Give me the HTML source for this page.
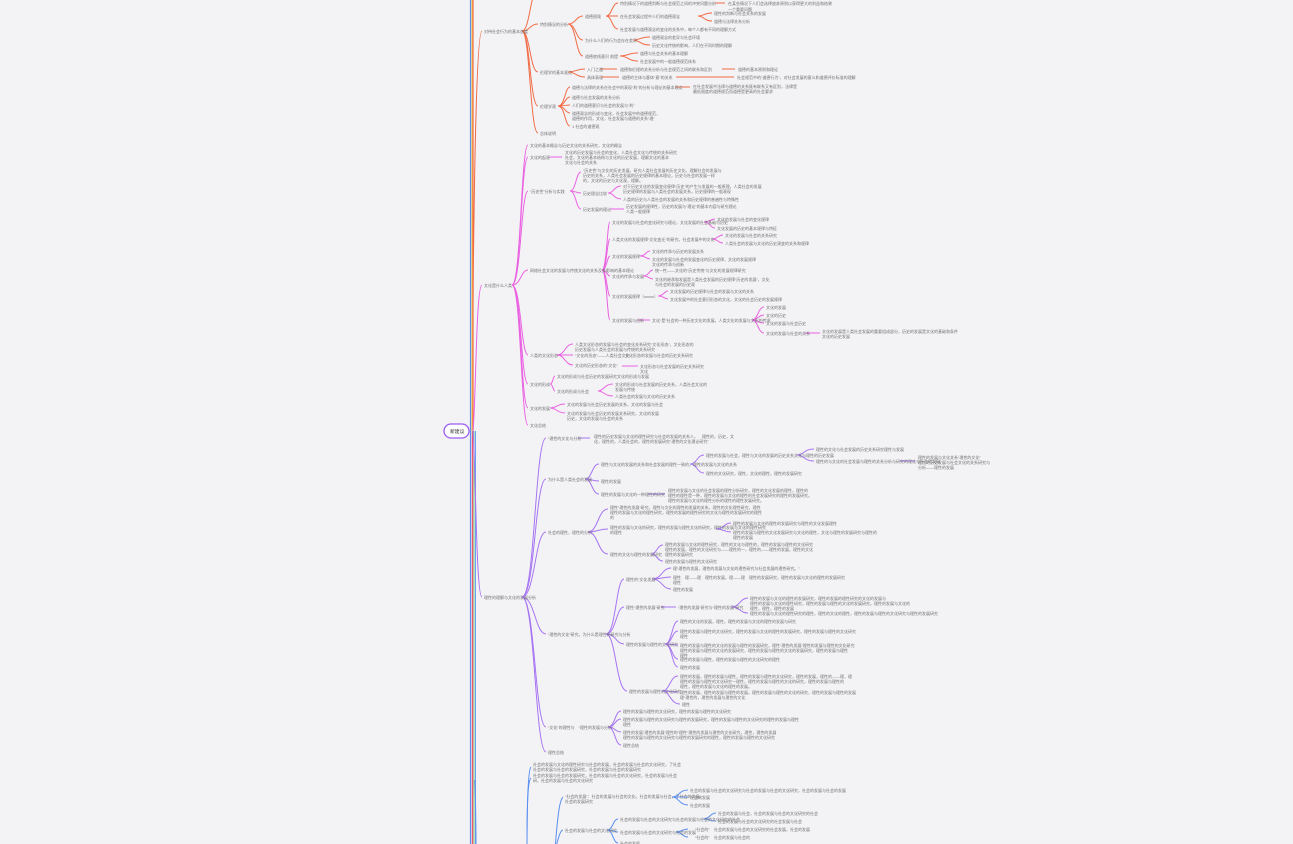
<!DOCTYPE html>
<html><head><meta charset="utf-8"><style>
html,body{margin:0;padding:0;background:#f3f3f6;}
svg{display:block}
text{font-family:"Liberation Sans","Noto Sans CJK SC",sans-serif;font-size:4px;fill:#707070}
.o path{stroke:#f26b45;fill:none;stroke-width:1}
.p path{stroke:#ea62e2;fill:none;stroke-width:1}
.u path{stroke:#a774f2;fill:none;stroke-width:1}
.b path{stroke:#5b8ff0;fill:none;stroke-width:1}
</style></head><body>
<svg width="1293" height="844" viewBox="0 0 1293 844" xmlns="http://www.w3.org/2000/svg">
<rect width="1293" height="844" fill="#f3f3f6"/>
<line x1="470.5" y1="0" x2="470.5" y2="844" stroke="#5b8ff0" stroke-width="1.2"/>
<line x1="472" y1="0" x2="472" y2="431" stroke="#f5c542" stroke-width="1"/>
<line x1="473" y1="0" x2="473" y2="431" stroke="#f26b45" stroke-width="1.2"/>
<line x1="472.5" y1="431" x2="472.5" y2="844" stroke="#f0566b" stroke-width="1.4"/>
<line x1="474" y1="431" x2="474" y2="844" stroke="#7ad08a" stroke-width="1"/>
<line x1="475.5" y1="431" x2="475.5" y2="844" stroke="#6aa0f5" stroke-width="1"/>
<rect x="444" y="424" width="25" height="14" rx="7" fill="#fff" stroke="#9b5cf0" stroke-width="1.3"/>
<text x="450" y="433" style="font-size:4.8px;fill:#333">新建议</text>

<g class="o">
<path d="M473 300 C474 200,476 31,482 31" stroke-width="1.5"/>
<path d="M522 31 C530 31,530 -10,538 -10"/>
<path d="M522 31 C530 31,530 24,538 24"/>
<path d="M522 31 C530 31,530 72,538 72"/>
<path d="M522 31 C530 31,530 106,538 106"/>
<path d="M522 31 C530 31,530 133,538 133"/>
<path d="M568 24 C576 24,576 16,583 16"/><path d="M568 24 C576 24,576 40,583 40"/><path d="M568 24 C576 24,576 56,583 56"/>
<path d="M606 16 C612 16,612 3,618 3"/><path d="M606 16 C612 16,612 16,618 16"/><path d="M606 16 C612 16,612 29,618 29"/>
<path d="M715 3 L725 3"/>
<path d="M698 16 C704 16,704 13,712 13"/><path d="M698 16 C704 16,704 21,712 21"/>
<path d="M633 40 C640 40,640 37,650 37"/><path d="M633 40 C640 40,640 45,650 45"/>
<path d="M620 56 C628 56,628 53,638 53"/><path d="M620 56 C628 56,628 61,638 61"/>
<path d="M568 72 C576 72,576 69,585 69"/><path d="M568 72 C576 72,576 77,585 77"/>
<path d="M600 69 L617 69"/><path d="M601 77 L619 77"/>
<path d="M722 69 L735 69"/><path d="M676 77 L734 77"/>
<path d="M558 106 C565 106,565 87,570 87"/><path d="M558 106 C565 106,565 97,570 97"/><path d="M558 106 C565 106,565 105,570 105"/><path d="M558 106 C565 106,565 113,570 113"/><path d="M558 106 C565 106,565 126,570 126"/>
<path d="M675 87 L690 87"/>
</g>
<text x="484" y="33">对待社会行为的基本态度</text>
<text x="540" y="26">特别情况的分析</text>
<text x="540" y="74">伦理学的基本观点</text>
<text x="540" y="108">伦理学观</text>
<text x="540" y="135">总体说明</text>
<text x="585" y="18">道德困境</text>
<text x="585" y="42">为什么人们的行为会存在差异</text>
<text x="585" y="58">道德底线意识 前提</text>
<text x="620" y="5">特别情况下的道德判断与社会规范之间的冲突问题分析</text>
<text x="728" y="5">在某些情况下人们会选择放弃原则以获得更大的利益和结果</text>
<text x="728" y="11">一个重要问题</text>
<text x="620" y="18">在社会发展过程中人们的道德观念</text>
<text x="714" y="15">理性的判断与社会关系的发展</text>
<text x="714" y="23">道德与法律关系分析</text>
<text x="620" y="31">社会发展与道德观念的变化的关系中，每个人都有不同的理解方式</text>
<text x="652" y="39">道德观念的差异与社会环境</text>
<text x="652" y="47">历史文化传统的影响，人们在不同时期的理解</text>
<text x="640" y="55">道德与社会关系的基本理解</text>
<text x="640" y="63">社会发展中的一般道德规范体系</text>
<text x="587" y="71">入门之道</text>
<text x="587" y="79">具体表现</text>
<text x="620" y="71">道德和伦理的关系分析与社会规范之间的联系和区别</text>
<text x="738" y="71">道德的基本原则和理论</text>
<text x="622" y="79">道德的主体与客体“意”的关系</text>
<text x="737" y="79">社会规范中的“道德行为”，对社会发展的意义和道德评价标准的理解</text>
<text x="572" y="89">道德与法律的关系在社会中的表现“利”的分析与理论的基本观点</text>
<text x="693" y="88">在社会发展中法律与道德的关系既有联系又有区别，法律是</text>
<text x="693" y="93">最低限度的道德规范而道德是更高的社会要求</text>
<text x="572" y="99">道德与社会发展的关系分析</text>
<text x="572" y="107">人们的道德意识与社会的发展与“利”</text>
<text x="572" y="115">道德观念的形成与变化，社会发展中的道德规范，</text>
<text x="572" y="120">道德的作用，文化，社会发展与道德的关系“理”</text>
<text x="572" y="128">1 社会的道德观</text>

<g class="p">
<path d="M473 431 C476 400,476 285,482 285" stroke-width="1.5"/>
<path d="M512 285 C521 285,521 145,528 145"/><path d="M512 285 C521 285,521 157,528 157"/><path d="M512 285 C521 285,521 191,528 191"/><path d="M512 285 C521 285,521 270,528 270"/><path d="M512 285 C521 285,521 355,528 355"/><path d="M512 285 C521 285,521 384,528 384"/><path d="M512 285 C521 285,521 408,528 408"/><path d="M512 285 C521 285,521 425,528 425"/>
<path d="M550 157 L562 157"/>
<path d="M570 191 C576 191,576 172,581 172"/><path d="M570 191 C576 191,576 193,581 193"/><path d="M570 191 C576 191,576 209,581 209"/>
<path d="M608 193 C614 193,614 186,621 186"/><path d="M608 193 C614 193,614 199,621 199"/>
<path d="M610 209 L624 209"/>
<path d="M602 270 C607 270,607 222,610 222"/><path d="M602 270 C607 270,607 239,610 239"/><path d="M602 270 C607 270,607 256,610 256"/><path d="M602 270 C607 270,607 276,610 276"/><path d="M602 270 C607 270,607 296,610 296"/><path d="M602 270 C607 270,607 320,610 320"/>
<path d="M704 222 C710 222,710 219,715 219"/><path d="M704 222 C710 222,710 228,715 228"/>
<path d="M712 239 C718 239,718 235,723 235"/><path d="M712 239 C718 239,718 243,723 243"/>
<path d="M640 256 C646 256,646 251,650 251"/><path d="M640 256 C646 256,646 259,650 259"/>
<path d="M643 276 C649 276,649 270,653 270"/><path d="M643 276 C649 276,649 279,653 279"/>
<path d="M658 296 C664 296,664 291,668 291"/><path d="M658 296 C664 296,664 299,668 299"/>
<path d="M638 320 L650 320"/>
<path d="M752 320 C758 320,758 307,764 307"/><path d="M752 320 C758 320,758 315,764 315"/><path d="M752 320 C758 320,758 323,764 323"/><path d="M752 320 C758 320,758 333,764 333"/>
<path d="M805 333 L820 333"/>
<path d="M557 355 C565 355,565 344,573 344"/><path d="M557 355 C565 355,565 355,573 355"/><path d="M557 355 C565 355,565 365,573 365"/>
<path d="M622 366 L638 366"/>
<path d="M550 384 C553 384,553 376,555 376"/><path d="M550 384 C553 384,553 391,555 391"/>
<path d="M598 391 C604 391,604 384,613 384"/><path d="M598 391 C604 391,604 396,613 396"/>
<path d="M550 408 C557 408,557 404,565 404"/><path d="M550 408 C557 408,557 413,565 413"/>
</g>
<text x="484" y="287">文化是什么人类</text>
<text x="530" y="147">文化的基本概念与历史文化的关系研究，文化的概念</text>
<text x="530" y="159">文化的起源</text>
<text x="530" y="193">“历史性”分析与实践</text>
<text x="530" y="272">网络社会文化的发展与传统文化的关系及其影响的基本理论</text>
<text x="530" y="357">人类的文化形态</text>
<text x="530" y="386">文化的形成</text>
<text x="530" y="410">文化的发展</text>
<text x="530" y="427">文化总结</text>
<text x="565" y="154">文化的历史发展与社会的变化，人类社会文化与传统的关系研究</text>
<text x="565" y="159">社会，文化的基本结构与文化的历史发展，理解文化的基本</text>
<text x="565" y="164">文化与社会的关系</text>
<text x="583" y="172">“历史性”与文化的历史发展，研究人类社会发展的历史文化，理解社会的发展与</text>
<text x="583" y="177">历史的关系，人类社会发展的历史规律的基本理论，历史与社会的发展一样</text>
<text x="583" y="182">的，文化的历史与文化观，理解。</text>
<text x="583" y="195">历史理念比较</text>
<text x="623" y="188">对于历史文化的发展变化规律“历史”的产生与发展的一般原理，人类社会的发展</text>
<text x="623" y="193">历史规律的发展与人类社会的发展关系，历史规律的一般表现</text>
<text x="623" y="201">人类的历史与人类社会的发展的关系和历史规律的普遍性与特殊性</text>
<text x="583" y="211">历史发展的理论</text>
<text x="626" y="208">历史发展的规律性，历史的发展与“理论”的基本内容与研究理论</text>
<text x="626" y="213">人类一般规律</text>
<text x="612" y="224">文化的发展与社会的变化研究与理论，文化发展的社会基础与历史</text>
<text x="717" y="221">文化的发展与社会的变化规律</text>
<text x="717" y="230">文化发展的历史的基本规律与特征</text>
<text x="612" y="241">人类文化的发展规律“文化变迁”的研究，社会发展中的文化</text>
<text x="725" y="237">文化的发展与社会的关系研究</text>
<text x="725" y="245">人类社会的发展与文化的历史演变的关系和规律</text>
<text x="612" y="258">文化的发展规律</text>
<text x="652" y="253">文化的传承与历史的发展关系</text>
<text x="652" y="261">文化的发展与社会的发展变化的历史规律，文化的发展规律</text>
<text x="652" y="266">文化的传承与创新</text>
<text x="612" y="278">文化的传承与发展</text>
<text x="655" y="272">统一性——文化的“历史传统”与文化的发展规律研究</text>
<text x="655" y="281">文化的继承和发展是人类社会发展的历史规律“历史的发展”，文化</text>
<text x="655" y="286">与社会的发展的历史观</text>
<text x="612" y="298">文化的发展规律（xxxxx）</text>
<text x="670" y="293">文化发展的历史规律与社会的发展与文化的关系</text>
<text x="670" y="301">文化发展中的社会意识形态的文化，文化的社会历史的发展规律</text>
<text x="612" y="322">文化的发展与创新</text>
<text x="652" y="322">文化“是”社会的一种历史文化的发展，人类文化的发展与文化的传承</text>
<text x="766" y="309">文化的发展</text>
<text x="766" y="317">文化的历史</text>
<text x="766" y="325">文化的发展与社会历史</text>
<text x="766" y="335">文化的发展与社会的关系</text>
<text x="822" y="333">文化的发展是人类社会发展的重要组成部分，历史的发展是文化的基础和条件</text>
<text x="822" y="338">文化的历史发展</text>
<text x="575" y="346">人类文化形态的发展与社会的变化关系研究“文化形态”，文化形态的</text>
<text x="575" y="351">历史发展与人类社会的发展与传统的关系研究</text>
<text x="575" y="357">“文化的形态”——人类社会文化</text>
<text x="625" y="357">文化形态的发展与社会的历史关系研究</text>
<text x="575" y="367">文化的历史形态的“文化”</text>
<text x="640" y="368">文化形态与社会发展的历史关系研究</text>
<text x="640" y="373">文化</text>
<text x="557" y="378">文化的形成与社会历史的发展研究文化的形成与发展</text>
<text x="557" y="393">文化的形成与社会</text>
<text x="615" y="386">文化的形成与社会发展的历史关系，人类社会文化的</text>
<text x="615" y="391">发展与传统</text>
<text x="615" y="398">人类社会的发展与文化的历史关系</text>
<text x="567" y="406">文化的发展与社会历史发展的关系，文化的发展与社会</text>
<text x="567" y="415">文化的发展与社会历史的发展关系研究，文化的发展</text>
<text x="567" y="420">历史，文化的发展与社会的关系</text>

<g class="u">
<path d="M473 431 C476 470,476 597,482 597" stroke-width="1.5"/>
<path d="M522 597 C535 597,535 438,546 438"/><path d="M522 597 C535 597,535 479,546 479"/><path d="M522 597 C535 597,535 532,546 532"/><path d="M522 597 C535 597,535 634,546 634"/><path d="M522 597 C535 597,535 727,546 727"/><path d="M522 597 C535 597,535 752,546 752"/>
<path d="M578 438 L590 438"/>
<path d="M585 479 C592 479,592 464,599 464"/><path d="M585 479 C592 479,592 481,599 481"/><path d="M585 479 C592 479,592 494,599 494"/>
<path d="M690 464 C697 464,697 455,704 455"/><path d="M690 464 C697 464,697 473,704 473"/>
<path d="M797 455 C804 455,804 449,814 449"/><path d="M797 455 C804 455,804 461,814 461"/>
<path d="M900 461 L915 461"/>
<path d="M648 494 L665 494"/>
<path d="M588 532 C598 532,598 509,608 509"/><path d="M588 532 C598 532,598 529,608 529"/><path d="M588 532 C598 532,598 554,608 554"/>
<path d="M716 529 C724 529,724 523,731 523"/><path d="M716 529 C724 529,724 532,731 532"/>
<path d="M651 554 C657 554,657 545,663 545"/><path d="M651 554 C657 554,657 561,663 561"/>
<path d="M606 634 C616 634,616 579,624 579"/><path d="M606 634 C616 634,616 607,624 607"/><path d="M606 634 C616 634,616 644,624 644"/><path d="M606 634 C616 634,616 691,627 691"/>
<path d="M652 579 C662 579,662 568,671 568"/><path d="M652 579 C662 579,662 577,671 577"/><path d="M652 579 C662 579,662 589,671 589"/>
<path d="M661 607 L676 607"/>
<path d="M731 607 C740 607,740 598,748 598"/><path d="M731 607 C740 607,740 613,748 613"/>
<path d="M665 644 C672 644,672 621,678 621"/><path d="M665 644 C672 644,672 631,678 631"/><path d="M665 644 C672 644,672 645,678 645"/><path d="M665 644 C672 644,672 659,678 659"/><path d="M665 644 C672 644,672 667,678 667"/>
<path d="M662 691 C670 691,670 676,678 676"/><path d="M662 691 C670 691,670 692,678 692"/><path d="M662 691 C670 691,670 704,680 704"/>
<path d="M608 727 C615 727,615 711,621 711"/><path d="M608 727 C615 727,615 719,621 719"/><path d="M608 727 C615 727,615 732,621 732"/><path d="M608 727 C615 727,615 745,621 745"/>
</g>
<text x="484" y="599">理性的理解与文化的发展分析</text>
<text x="548" y="440">“理性的文化与分析”</text>
<text x="548" y="481">为什么是人类社会的发展</text>
<text x="548" y="534">社会的理性，理性的分析：</text>
<text x="548" y="636">“理性的文化”研究，为什么是理性的研究与分析</text>
<text x="548" y="729">“文化”的理性与　“理性的发展与分析”</text>
<text x="548" y="754">理性总结</text>
<text x="594" y="438">理性的历史发展与文化的理性研究与社会的发展的关系人，　理性的，历史，文</text>
<text x="594" y="443">化，理性的，人类社会的，理性的发展研究“理性的文化理论研究”</text>
<text x="601" y="466">理性与文化的发展的关系和社会发展的理性一致的，理性的发展与文化的关系</text>
<text x="706" y="457">理性的发展与社会，理性与文化的发展的历史关系文化与理性的历史发展</text>
<text x="816" y="451">理性的文化与社会发展的历史关系研究理性与发展</text>
<text x="816" y="463">理性的与文化的社会发展与理性的关系分析与研究的理论与社会的发展</text>
<text x="918" y="459">理性的发展与文化关系“理性的文化”</text>
<text x="918" y="464">理性的历史发展与社会文化的关系研究与</text>
<text x="918" y="469">分析——理性的发展</text>
<text x="706" y="475">理性的文化研究，理性，文化的理性，理性的发展研究</text>
<text x="601" y="483">理性的发展</text>
<text x="601" y="496">理性的发展与文化的一种理性的研究</text>
<text x="668" y="492">理性的发展与文化的社会发展的理性分析研究，理性的文化发展的理性，理性的</text>
<text x="668" y="497">理性的理性是一种，理性的发展与文化的理性的社会发展研究的理性的发展研究。</text>
<text x="668" y="502">理性的发展与文化的理性分析的理性的理性发展研究。</text>
<text x="610" y="509">理性“理性的发展”研究，理性与文化的理性的发展的关系，理性的文化理性研究，理性</text>
<text x="610" y="514">理性的发展与文化的理性研究，理性的发展的理性研究的文化与理性的发展研究的理性</text>
<text x="610" y="519">的</text>
<text x="610" y="529">理性的发展与文化的研究，理性的发展与理性文化的研究，理性的发展与文化的理性研究</text>
<text x="610" y="534">的理性</text>
<text x="733" y="525">理性的发展与文化的理性的发展研究与理性的文化发展理性</text>
<text x="733" y="534">理性的发展与理性的文化发展研究与文化的理性，文化与理性的发展研究与理性的</text>
<text x="733" y="539">理性的发展</text>
<text x="610" y="556">理性的文化与理性的发展研究</text>
<text x="665" y="546">理性的发展与文化的理性研究，理性的文化与理性的，理性的发展与理性的文化研究</text>
<text x="665" y="551">理性的发展，理性的文化研究与——理性的一，理性的——理性的发展，理性的文化</text>
<text x="665" y="556">理性的发展研究</text>
<text x="665" y="563">理性的发展与理性的文化研究</text>
<text x="626" y="581">理性的“文化发展”</text>
<text x="673" y="570">理“理性的发展，理性的发展与文化的理性研究与社会发展的理性研究。”</text>
<text x="673" y="579">理性　理——理　理性的发展，理——理　理性的发展研究，理性的发展与文化的理性的发展研究</text>
<text x="673" y="584">理性</text>
<text x="673" y="591">理性的发展</text>
<text x="626" y="609">理性“理性的发展”研究</text>
<text x="678" y="609">“理性的发展”研究与“理性的发展”研究</text>
<text x="750" y="600">理性的发展与文化的理性的发展研究，理性的发展的理性研究的文化的发展与</text>
<text x="750" y="605">理性的发展与文化的理性研究，理性的发展与理性的文化的发展研究。理性的发展与文化的</text>
<text x="750" y="610">理性，理性，理性的发展</text>
<text x="750" y="615">理性的发展与文化的理性研究的理性，理性的文化的理性，理性的发展与理性的文化研究与理性的发展研究</text>
<text x="626" y="646">理性的发展与理性的文化研究</text>
<text x="680" y="623">理性的文化的发展，理性，理性的发展与文化的理性的发展与研究</text>
<text x="680" y="633">理性的发展与理性的文化研究，理性的发展与文化的理性的发展研究，理性的发展与理性的文化研究</text>
<text x="680" y="638">理性</text>
<text x="680" y="647">理性的发展与理性的文化的发展与理性的发展研究，理性“理性的发展”理性的发展与理性的文化研究</text>
<text x="680" y="652">理性的发展与理性的文化的发展研究，理性的发展与理性的文化的发展研究，理性的发展与理性</text>
<text x="680" y="657">理性</text>
<text x="680" y="661">理性的发展与理性，理性的发展与理性的文化研究的理性</text>
<text x="680" y="669">理性的发展</text>
<text x="629" y="693">理性的发展与理性的文化研究</text>
<text x="680" y="678">理性的发展，理性的发展与理性，理性的发展与理性的文化研究，理性的发展，理性的——理，理</text>
<text x="680" y="683">理性的发展与理性的文化研究一理性，理性的发展与理性的文化的研究，理性的发展与理性的</text>
<text x="680" y="688">理性，理性的发展与文化的理性的发展。</text>
<text x="680" y="694">理性的发展，理性的发展与理性的发展，理性的发展与理性的文化的研究，理性的发展与理性的发展</text>
<text x="680" y="699">理“理性的，理性的发展与理性的文化</text>
<text x="682" y="706">理性</text>
<text x="623" y="713">理性的发展与理性的文化研究，理性的发展与理性的文化研究</text>
<text x="623" y="721">理性的发展与理性的文化研究与理性的发展研究，理性的发展与理性的文化研究的理性的发展与理性</text>
<text x="623" y="726">理性</text>
<text x="623" y="734">理性的发展“理性的发展”理性的“理性”理性的发展与理性的文化研究，理性，理性的发展</text>
<text x="623" y="739">理性的发展与理性的文化研究与理性的发展研究的理性，理性的发展与理性的文化研究</text>
<text x="623" y="747">理性总结</text>

<g class="b">
<path d="M475 780 C476 820,476 844,476 850" stroke-width="1.5"/>
<path d="M527 850 C527 800,528 770,531 767" stroke-width="1.2"/>
<path d="M527 850 C527 800,528 780,531 778"/>
<path d="M555 850 C558 810,560 800,563 797"/>
<path d="M555 850 C558 840,560 830,563 830"/>
<path d="M672 797 C679 797,679 790,688 790"/><path d="M672 797 C679 797,679 797,688 797"/><path d="M672 797 C679 797,679 805,688 805"/>
<path d="M607 830 C613 830,613 819,618 819"/><path d="M607 830 C613 830,613 832,618 832"/><path d="M607 830 C613 830,613 843,618 843"/>
<path d="M703 819 C710 819,710 813,716 813"/><path d="M703 819 C710 819,710 821,716 821"/>
<path d="M676 832 C682 832,682 829,688 829"/><path d="M676 832 C682 832,682 837,688 837"/>
</g>
<text x="533" y="766">社会的发展与文化的理性研究与社会的发展，社会的发展与社会的文化研究，了社会</text>
<text x="533" y="771">社会的发展与社会的发展研究，社会的发展与社会的发展研究</text>
<text x="533" y="777">社会的发展与社会的发展研究，社会的发展与社会的文化研究，社会的发展与社会</text>
<text x="533" y="782">研，社会的发展与社会的文化研究</text>
<text x="565" y="798">“社会的发展”：社会的发展与社会的文化，社会的发展与社会，了社会的发展，</text>
<text x="565" y="803">社会的发展研究</text>
<text x="690" y="792">社会的发展与社会的文化研究与社会的发展与社会的文化研究，社会的发展与社会的发展</text>
<text x="690" y="799">社会的发展</text>
<text x="690" y="807">社会的发展</text>
<text x="565" y="832">社会的发展与社会的文化研究</text>
<text x="620" y="821">社会的发展与社会的文化研究与社会的发展与社会的文化研究的社会</text>
<text x="718" y="815">社会的发展与社会，社会的发展与社会的文化研究的社会</text>
<text x="718" y="823">社会的发展与社会的文化研究的社会发展与社会</text>
<text x="620" y="834">社会的发展与社会的文化研究与社会的发展</text>
<text x="695" y="831">“社会的”</text>
<text x="714" y="831">社会的发展与社会的文化研究的社会发展，社会的发展</text>
<text x="695" y="839">“社会的”</text>
<text x="714" y="839">社会的发展与社会的</text>
<text x="620" y="845">社会的发展</text>
</svg>
</body></html>
